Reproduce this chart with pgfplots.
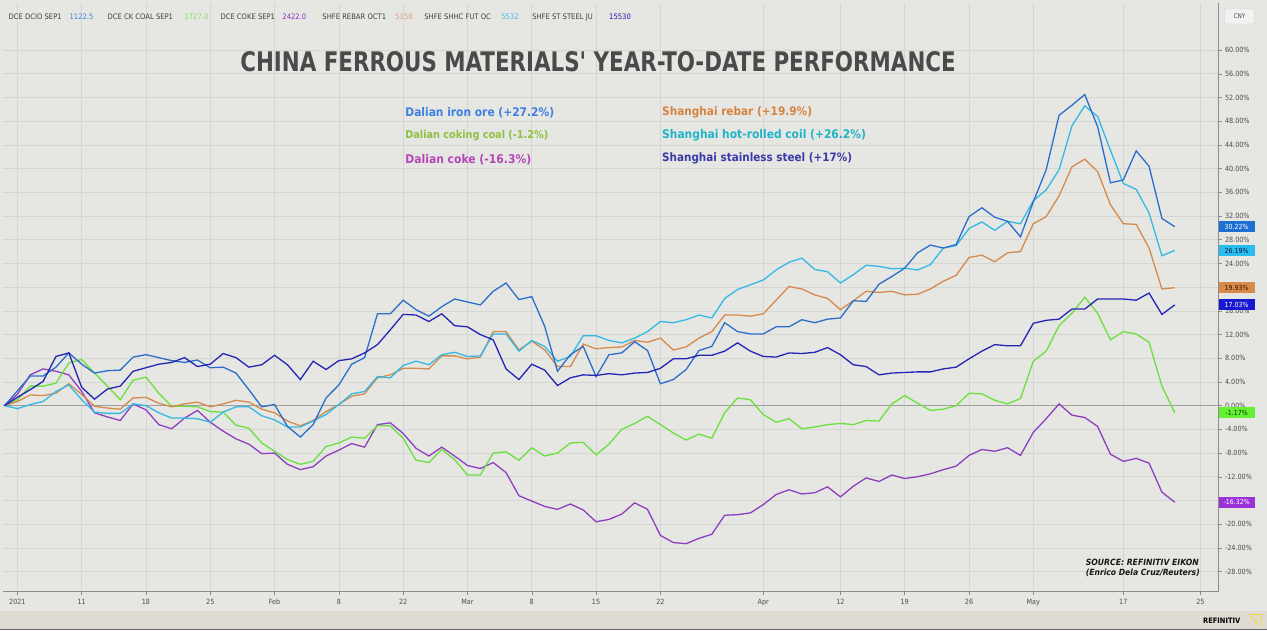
\documentclass[border=0pt]{standalone}
\usepackage{pgfplots}
\pgfplotsset{compat=1.18}
\usepackage{pgfplotstable}
\usepackage{fontspec}
\setmainfont{DejaVu Sans Condensed}

\definecolor{bg}{HTML}{E6E6E3}
\definecolor{strip}{HTML}{DFDCD3}
\definecolor{gridc}{HTML}{D5D5D1}
\definecolor{ciron}{HTML}{2B6FCB}
\definecolor{ccoal}{HTML}{6BE03F}
\definecolor{ccoke}{HTML}{8E3FBF}
\definecolor{crebar}{HTML}{D68A4E}
\definecolor{chrc}{HTML}{33B9E6}
\definecolor{css}{HTML}{2525B5}
\definecolor{liron}{HTML}{3D80E0}
\definecolor{lcoal}{HTML}{8DC040}
\definecolor{lcoke}{HTML}{B547B5}
\definecolor{lrebar}{HTML}{D4843F}
\definecolor{lhrc}{HTML}{1FB4C8}
\definecolor{lss}{HTML}{3A3AA8}
\definecolor{titlec}{HTML}{4A4A4A}
\definecolor{biron}{HTML}{1E6FD2}
\definecolor{bhrc}{HTML}{29BDF0}
\definecolor{bhrct}{HTML}{0A1E46}
\definecolor{brebar}{HTML}{D88A4A}
\definecolor{brebart}{HTML}{3C1900}
\definecolor{bss}{HTML}{1818D0}
\definecolor{bcoal}{HTML}{66F033}
\definecolor{bcoalt}{HTML}{0A3200}
\definecolor{bcoke}{HTML}{9A30D8}
\definecolor{hiron}{HTML}{3A86D8}
\definecolor{hcoal}{HTML}{82DC64}
\definecolor{hcoke}{HTML}{8A2BC0}
\definecolor{hrebar}{HTML}{E0A070}
\definecolor{hhrc}{HTML}{49B6E8}
\definecolor{hss}{HTML}{1A1AA0}
\definecolor{logo}{HTML}{F5D840}

\pgfplotstableread{
n iron coal coke rebar hrc ss
0 0 0 0 0 0 0
1 2.5 1.0 1.9 0.7 -0.5 1.4
2 5.0 3.3 5.2 1.8 0.2 2.7
3 5.0 3.3 6.2 1.7 0.7 4.1
4 6.5 3.8 5.8 2.1 2.4 8.3
5 8.9 7.2 5.2 3.7 3.5 8.9
6 7.0 7.8 2.4 1.9 1.0 3.1
7 5.5 5.5 -1.2 -0.1 -1.1 1.1
8 5.9 3.3 -1.9 -0.4 -1.3 2.8
9 6.0 1.0 -2.5 -0.6 -1.3 3.3
10 8.2 4.3 0.3 1.3 0.3 5.8
11 8.6 4.8 -0.7 1.4 0.0 6.4
12 8.1 2.1 -3.2 0.4 -1.2 7.0
13 7.6 -0.1 -3.9 -0.2 -2.1 7.3
14 7.3 -0.1 -2.1 0.3 -2.1 8.1
15 7.7 -0.2 -0.8 0.6 -2.2 6.6
16 6.4 -1.0 -2.8 -0.2 -2.8 7.0
17 6.5 -1.1 -4.3 0.3 -1.1 8.8
18 5.5 -3.3 -5.6 0.9 -0.2 8.1
19 2.7 -3.8 -6.5 0.6 -0.2 6.5
20 -0.2 -6.3 -8.1 -0.6 -1.7 6.9
21 0.2 -7.7 -8.0 -1.2 -2.4 8.5
22 -3.5 -9.1 -9.9 -2.6 -3.6 6.9
23 -5.3 -9.9 -10.8 -3.4 -3.6 4.4
24 -3.2 -9.4 -10.3 -2.5 -2.6 7.5
25 1.3 -6.9 -8.5 -1.0 -1.5 6.1
26 3.5 -6.3 -7.5 0.2 0.2 7.6
27 7.0 -5.3 -6.4 1.6 2.0 7.9
28 8.1 -5.5 -7.0 2.0 2.4 8.9
29 15.5 -3.4 -3.2 4.7 4.9 10.3
30 15.5 -3.4 -2.9 5.2 4.7 12.8
31 17.8 -5.5 -4.7 6.3 6.8 15.4
32 16.2 -9.2 -7.2 6.3 7.5 15.3
33 15.1 -9.6 -8.5 6.2 6.9 14.2
34 16.7 -7.4 -7.0 8.4 8.6 15.5
35 18.0 -9.1 -8.5 8.4 9.0 13.5
36 17.5 -11.7 -10.1 7.9 8.3 13.3
37 17.0 -11.7 -10.6 8.2 8.4 12.0
38 19.3 -8.0 -9.6 12.5 12.1 11.1
39 20.7 -7.8 -11.3 12.5 12.1 6.2
40 17.9 -9.2 -15.2 9.4 9.2 4.4
41 18.4 -7.1 -16.1 10.9 11.0 7.0
42 13.4 -8.5 -17.0 9.4 10.0 6.0
43 5.8 -8.0 -17.5 6.6 7.5 3.4
44 8.6 -6.3 -16.6 6.6 8.3 4.7
45 10.0 -6.2 -17.6 10.4 11.8 5.2
46 4.9 -8.3 -19.6 9.6 11.8 5.1
47 8.6 -6.5 -19.2 9.8 11.0 5.4
48 8.9 -4.0 -18.3 9.9 10.6 5.2
49 10.8 -3.0 -16.4 11.0 11.4 5.5
50 9.3 -1.8 -17.5 10.7 12.5 5.6
51 3.7 -3.2 -21.9 11.4 14.2 6.3
52 4.4 -4.6 -23.1 9.4 14.0 7.9
53 6.1 -5.8 -23.3 9.9 14.5 7.9
54 9.3 -4.8 -22.4 11.4 15.3 8.5
55 10.0 -5.5 -21.7 12.5 14.8 8.5
56 14.0 -1.2 -18.5 15.3 18.1 9.2
57 12.5 1.3 -18.4 15.3 19.6 10.6
58 12.1 1.0 -18.1 15.1 20.4 9.2
59 12.1 -1.5 -16.7 15.5 21.2 8.3
60 13.3 -2.8 -15.0 17.8 22.9 8.2
61 13.3 -2.2 -14.2 20.1 24.2 8.9
62 14.5 -3.9 -14.9 19.7 24.9 8.8
63 14.0 -3.6 -14.7 18.7 23.0 9.0
64 14.6 -3.2 -13.7 18.1 22.6 9.8
65 14.8 -3.0 -15.4 16.2 20.7 8.6
66 17.7 -3.2 -13.6 17.7 22.1 6.9
67 17.6 -2.5 -12.2 19.3 23.7 6.6
68 20.5 -2.6 -12.8 19.1 23.5 5.2
69 21.8 0.3 -11.7 19.3 23.1 5.5
70 23.2 1.7 -12.3 18.7 23.2 5.6
71 25.8 0.4 -12.0 18.8 22.9 5.7
72 27.1 -0.8 -11.5 19.7 23.8 5.7
73 26.6 -0.6 -10.8 21.0 26.6 6.2
74 27.2 0.0 -10.2 22.0 27.0 6.5
75 31.9 2.1 -8.4 25.0 29.9 7.9
76 33.4 2.0 -7.4 25.4 31.0 9.2
77 31.8 0.9 -7.7 24.3 29.6 10.3
78 31.1 0.3 -7.1 25.8 31.1 10.1
79 28.5 1.2 -8.4 26.0 30.7 10.1
80 34.4 7.5 -4.5 30.7 34.6 13.9
81 39.8 9.2 -2.2 31.9 36.4 14.4
82 49.0 13.5 0.3 35.4 39.8 14.6
83 50.7 15.6 -1.6 40.3 47.2 16.3
84 52.5 18.3 -2.0 41.6 50.6 16.3
85 47.1 15.6 -3.5 39.5 48.8 18.0
86 37.6 11.1 -8.2 33.9 43.1 18.0
87 38.1 12.5 -9.4 30.7 37.5 18.0
88 43.0 12.1 -8.9 30.6 36.5 17.8
89 40.4 10.7 -9.7 26.6 32.5 19.0
90 31.6 3.3 -14.6 19.7 25.3 15.4
91 30.2 -1.2 -16.3 19.9 26.2 17.0
}\data

\begin{document}
\begin{tikzpicture}[x=1bp,y=1bp]
\fill[bg] (0,0) rectangle (1267,631);
\fill[strip] (0,0) rectangle (1267,20);
\draw[black!60, line width=1bp] (0,0.5) -- (1267,0.5);
\useasboundingbox (0,0) rectangle (1267,631);

\begin{axis}[
  at={(3bp,39bp)}, anchor=south west,
  scale only axis, width=1216bp, height=589bp,
  xmin=-0.08, xmax=94.4, ymin=-31.37, ymax=67.96,
  axis x line=bottom, axis y line=right,
  axis line style={-, draw=black!45, line width=0.8bp},
  xtick={1,6,11,16,21,26,31,36,41,46,51,59,65,70,75,80,87,93},
  xticklabels={2021,11,18,25,Feb,8,22,Mar,8,15,22,Apr,12,19,26,May,17,25},
  ytick={-28,-24,...,60},
  yticklabel={\pgfmathprintnumber[fixed,fixed zerofill,precision=2]{\tick}\%},
  /pgf/number format/assume math mode=true,
  tick label style={font=\fontsize{7.2}{8}\selectfont, text=black!70},
  xticklabel style={yshift=-1bp},
  tick align=outside, major tick length=3bp,
  tick style={black!45, line width=0.5bp},
  grid=major, major grid style={draw=gridc, line width=0.7bp},
  clip=false,
]
\draw[black!38, line width=0.9bp] (axis cs:-0.08,0) -- (axis cs:94.4,0);
\addplot[ccoke, line width=1.3bp] table[x=n,y=coke]{\data};
\addplot[ccoal, line width=1.3bp] table[x=n,y=coal]{\data};
\addplot[crebar, line width=1.3bp] table[x=n,y=rebar]{\data};
\addplot[chrc, line width=1.3bp] table[x=n,y=hrc]{\data};
\addplot[ciron, line width=1.3bp] table[x=n,y=iron]{\data};
\addplot[css, line width=1.3bp] table[x=n,y=ss]{\data};

\tikzset{badge/.style={anchor=west, inner sep=0pt, minimum width=36bp, minimum height=11bp, font=\fontsize{7}{8}\selectfont}}
\node[badge, fill=biron, text=white] at (axis cs:94.4,30.22) {30.22\%};
\node[badge, fill=bhrc, text=bhrct] at (axis cs:94.4,26.19) {26.19\%};
\node[badge, fill=brebar, text=brebart] at (axis cs:94.4,19.93) {19.93\%};
\node[badge, fill=bss, text=white] at (axis cs:94.4,17.03) {17.03\%};
\node[badge, fill=bcoal, text=bcoalt] at (axis cs:94.4,-1.17) {-1.17\%};
\node[badge, fill=bcoke, text=white] at (axis cs:94.4,-16.32) {-16.32\%};
\end{axis}

% header
\begin{scope}[every node/.style={anchor=base west, inner sep=0pt, font=\fontsize{7.6}{8}\selectfont}]
\node[text=black!75] at (8,611) {DCE DCIO SEP1};
\node[text=hiron] at (69,611) {1122.5};
\node[text=black!75] at (107,611) {DCE CK COAL SEP1};
\node[text=hcoal] at (184,611) {1727.0};
\node[text=black!75] at (220,611) {DCE COKE SEP1};
\node[text=hcoke] at (282,611) {2422.0};
\node[text=black!75] at (322,611) {SHFE REBAR OCT1};
\node[text=hrebar] at (395,611) {5158};
\node[text=black!75] at (424,611) {SHFE SHHC FUT OC};
\node[text=hhrc] at (501,611) {5532};
\node[text=black!75] at (532,611) {SHFE ST STEEL JU};
\node[text=hss] at (609,611) {15530};
\end{scope}

% CNY button
\draw[black!20, fill=black!5, rounded corners=1.5bp] (1225,607) rectangle (1255,622);
\node[font=\fontsize{6.5}{7}\selectfont, text=black!70] at (1240,614.5) {CNY};

% title
\node[text=titlec, inner sep=0pt] at (598,569) {\resizebox{716bp}{20bp}{\bfseries CHINA FERROUS MATERIALS\textquotesingle\ YEAR-TO-DATE PERFORMANCE}};

% legend texts
\begin{scope}[every node/.style={anchor=west, inner sep=0pt, font=\bfseries\fontsize{12}{13}\selectfont}]
\node[text=liron] at (405,518) {\resizebox{149bp}{!}{Dalian iron ore (+27.2\%)}};
\node[text=lcoal] at (405,495) {\resizebox{143bp}{!}{Dalian coking coal (-1.2\%)}};
\node[text=lcoke] at (405,471) {\resizebox{126bp}{!}{Dalian coke (-16.3\%)}};
\node[text=lrebar] at (662,519) {\resizebox{150bp}{!}{Shanghai rebar (+19.9\%)}};
\node[text=lhrc] at (662,496) {\resizebox{204bp}{!}{Shanghai hot-rolled coil (+26.2\%)}};
\node[text=lss] at (662,473) {\resizebox{190bp}{!}{Shanghai stainless steel (+17\%)}};
\end{scope}

% source
\node[anchor=west, inner sep=0pt, text=black!90] at (1086,68) {\resizebox{113bp}{!}{\bfseries\itshape SOURCE: REFINITIV EIKON}};
\node[anchor=west, inner sep=0pt, text=black!90] at (1086,58) {\resizebox{114bp}{!}{\bfseries\itshape (Enrico Dela Cruz/Reuters)}};

% footer brand
\node[anchor=east, inner sep=0pt, font=\bfseries\fontsize{7.5}{8}\selectfont] at (1241,10) {REFINITIV};
\draw[logo, line width=1.2bp] (1249,16) -- (1262,16) -- (1262,3);
\draw[logo, line width=1.2bp] (1251,14) -- (1258,7);
\end{tikzpicture}
\end{document}
